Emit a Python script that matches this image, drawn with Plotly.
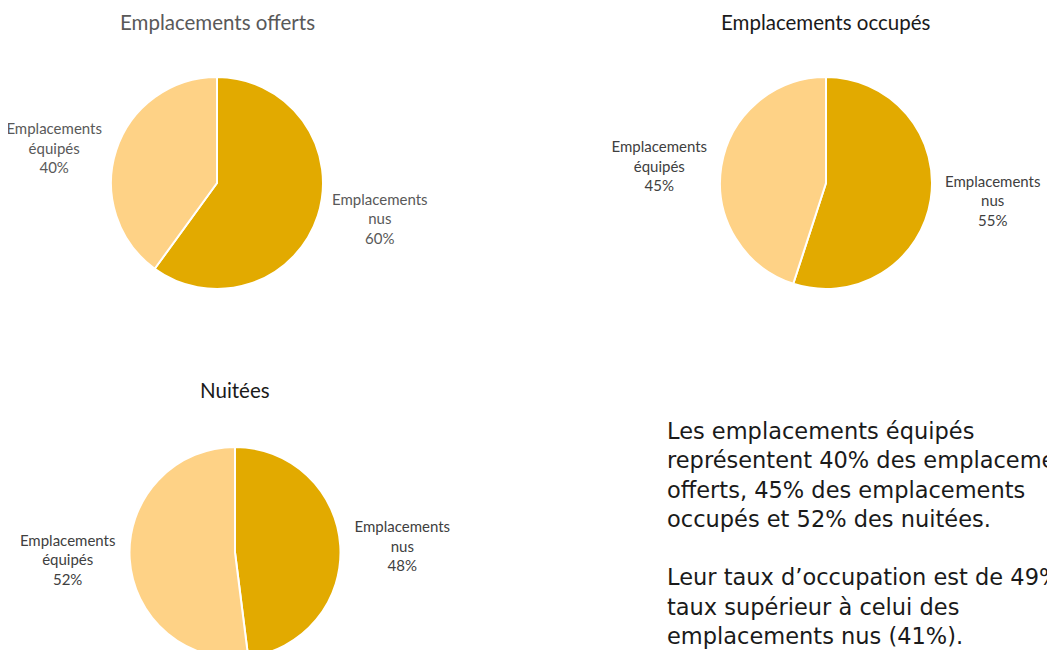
import plotly.graph_objects as go

categories = ["Emplacements<br>nus", "Emplacements<br>équipés"]
offerts = [60, 40]
occupes = [55, 45]
nuitees = [48, 52]

colors = ["#E2AA00", "#FED286"]

commentaire = ("Les emplacements équipés<br>"
               "représentent 40% des emplacements<br>"
               "offerts, 45% des emplacements<br>"
               "occupés et 52% des nuitées.<br>"
               "<br>"
               "Leur taux d’occupation est de 49%,<br>"
               "taux supérieur à celui des<br>"
               "emplacements nus (41%).")

W, H = 1055, 650
OFF = 8  # page offset of the plot div


def px(x):
    return (x - OFF) / W


def py(y):
    return 1 - (y - OFF) / H


def pie(values, cx, cy, half_w, r, label_color):
    x0 = max(px(cx - half_w), 0)
    x1 = min(px(cx + half_w), 1)
    y0 = max(py(cy + r), 0)
    y1 = min(py(cy - r), 1)
    return go.Pie(
        labels=categories, values=values, sort=False, direction="clockwise",
        marker=dict(colors=colors, line=dict(color="white", width=2)),
        texttemplate="%{label}<br>%{percent:.0%}", textposition="outside",
        textfont=dict(family="Lato", size=15, color=label_color),
        domain=dict(x=[x0, x1], y=[y0, y1]),
        showlegend=False, hoverinfo="label+percent",
    )


fig = go.Figure()
fig.add_trace(pie(offerts, 217, 183, 209, 106, "#595959"))
fig.add_trace(pie(occupes, 826, 183, 229, 106, "#404040"))
fig.add_trace(pie(nuitees, 235, 553, 227, 106, "#404040"))

titles = [("Emplacements offerts", 217, 22, "#595959"),
          ("Emplacements occupés", 826, 22, "#1a1a1a"),
          ("Nuitées", 235, 390, "#1a1a1a")]
for txt, x, y, c in titles:
    fig.add_annotation(text=txt, x=px(x), y=py(y), xref="paper", yref="paper",
                       showarrow=False, xanchor="center", yanchor="middle",
                       font=dict(family="Lato", size=20.5, color=c))

fig.add_annotation(text=commentaire, x=px(665), y=py(416), xref="paper", yref="paper",
                   showarrow=False, xanchor="left", yanchor="top", align="left",
                   font=dict(family="DejaVu Sans", size=22.5, color="#1a1a1a"))

fig.update_layout(width=W, height=H, margin=dict(l=0, r=0, t=0, b=0, autoexpand=False),
                  paper_bgcolor="white", plot_bgcolor="white")

fig.write_html("out.html")
